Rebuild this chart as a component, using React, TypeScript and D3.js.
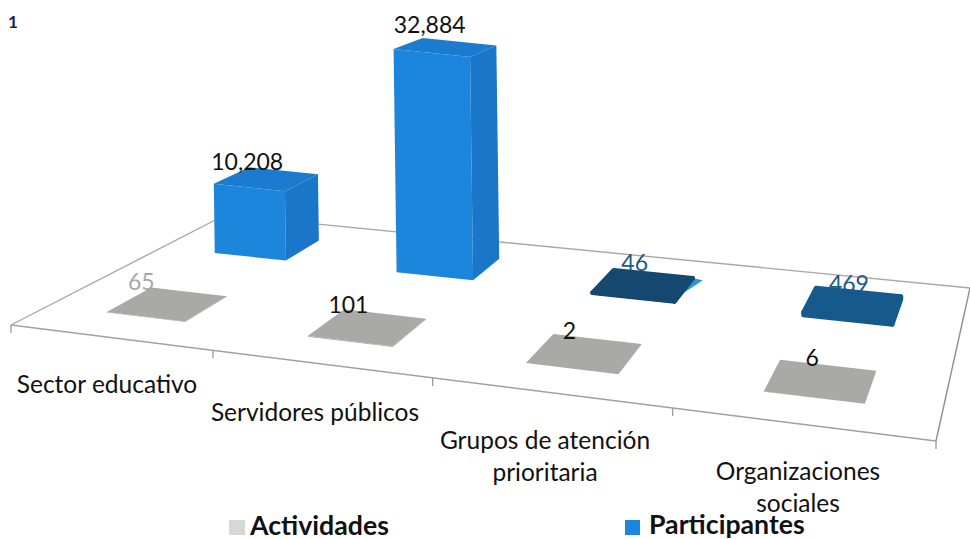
import React from 'react';
import * as d3 from 'd3';

const categories = ['Sector educativo', 'Servidores públicos', 'Grupos de atención prioritaria', 'Organizaciones sociales'];
const seriesNames = ['Participantes', 'Actividades'];
const participantes = [10208, 32884, 46, 469];
const actividades = [65, 101, 2, 6];
const participantesLabels = ['10,208', '32,884', '46', '469'];
const actividadesLabels = ['65', '101', '2', '6'];

// layout only
const FL: [number, number] = [11, 325], FR: [number, number] = [936, 441], BR: [number, number] = [970, 288], BL: [number, number] = [225, 215];
const labelLayoutP = [[-2, 3], [7, -5], [21, 1], [33, 4]];
const labelLayoutA = [[-10, 2], [4, 4], [16, 5], [32, 6]];
const catLabelPos = [[107, 393], [315, 421], [545, 449], [798, 480]];
const catLines = [['Sector educativo'], ['Servidores públicos'], ['Grupos de atención', 'prioritaria'], ['Organizaciones', 'sociales']];
const FONT = 'Lato, Carlito, sans-serif';

function homography() {
  const [x0, y0] = FL, [x1, y1] = FR, [x2, y2] = BR, [x3, y3] = BL;
  const dx1 = x1 - x2, dx2 = x3 - x2, sx = x0 - x1 + x2 - x3;
  const dy1 = y1 - y2, dy2 = y3 - y2, sy = y0 - y1 + y2 - y3;
  const den = dx1 * dy2 - dx2 * dy1;
  const g = (sx * dy2 - dx2 * sy) / den, h = (dx1 * sy - sx * dy1) / den;
  const a = x1 - x0 + g * x1, b = x3 - x0 + h * x3, d = y1 - y0 + g * y1, e = y3 - y0 + h * y3;
  return (u: number, v: number): [number, number] => {
    const w = g * u + h * v + 1;
    return [(a * u + b * v + x0) / w, (d * u + e * v + y0) / w];
  };
}
const floor = homography();
const xBand = d3.scaleBand<string>().domain(categories).range([0.001, 1.001]).paddingInner(0.6).paddingOuter(0.3);
const zBand = d3.scaleBand<string>().domain(seriesNames).range([1, 0]).paddingInner(0.616).paddingOuter(0.287);
const yScale = d3.scaleLinear().domain([0, 32884]).range([0, 257]);
const line = d3.line();

function pt(u: number, v: number, val: number): [number, number] {
  const [x, y] = floor(u, v);
  const h = yScale(val) * (1 - 0.2 * v);
  return [x - 0.0135 * h, y - h];
}

function Bar({ cat, series, value, colors, round }: any) {
  const u0 = xBand(cat)!, u1 = u0 + xBand.bandwidth();
  const v1 = zBand(series)!, v0 = v1 + zBand.bandwidth();
  const flb = pt(u0, v1, 0), frb = pt(u1, v1, 0), brb = pt(u1, v0, 0);
  const flt = pt(u0, v1, value), frt = pt(u1, v1, value), brt = pt(u1, v0, value), blt = pt(u0, v0, value);
  const sw = round ? 4 : 0;
  return (
    <g strokeLinejoin="round">
      <path d={line([flb, frb, frt, flt])! + 'Z'} fill={colors[0]} stroke={colors[0]} strokeWidth={sw} />
      <path d={line([frb, brb, brt, frt])! + 'Z'} fill={colors[1]} stroke={colors[1]} strokeWidth={sw} />
      <path d={line([flt, frt, brt, blt])! + 'Z'} fill={colors[2]} stroke={colors[2]} strokeWidth={sw} />
    </g>
  );
}

function labelAt(cat: string, series: string, value: number, off: number[]) {
  const u0 = xBand(cat)!;
  const v0 = zBand(series)! + zBand.bandwidth();
  const [x, y] = pt(u0, v0, value);
  return [x + off[0], y + off[1]];
}

export default function App() {
  const ticks = [0, 0.25, 0.5, 0.75, 1];
  const blueCols = ['#1c86dc', '#1a76c8', '#1b7ccf'];
  const darkCols = [['#14486f', '#14486f', '#14486f'], ['#165a8c', '#165a8c', '#165a8c']];
  const gray = ['#a9a9a5', '#a9a9a5', '#a9a9a5'];
  return (
    <svg width={970} height={539} style={{ position: 'fixed', left: 0, top: 0, background: '#fff' }} fontFamily={FONT}>
      <text x={8} y={28} fontSize={17} fontWeight={700} fill="#14264f">1</text>
      <path d={line([FL, BL])!} fill="none" stroke="#a8a8a8" strokeWidth={1.4} />
      <path d={line([BL, BR])!} fill="none" stroke="#a8a8a8" strokeWidth={1.4} />
      <path d={line([BR, FR])!} fill="none" stroke="#8f8f8f" strokeWidth={1.4} />
      <path d={line([FL, FR])!} fill="none" stroke="#a0a0a8" strokeWidth={1.4} />
      {ticks.map((t) => {
        const [x, y] = floor(t, 0);
        return <path key={t} d={line([[x, y], [x, y + 8]])!} stroke="#9a9a9a" strokeWidth={1.3} />;
      })}
      {/* small light-blue sliver beside the dark plate */}
      {(() => {
        const c = categories[2];
        const u1 = xBand(c)! + xBand.bandwidth();
        const v1 = zBand('Participantes')!, v0 = v1 + zBand.bandwidth();
        const a = floor(u1, v0), b = floor(u1, v1);
        return <path d={line([[a[0], a[1]], [a[0] + 10, a[1] + 2], [b[0], b[1] - 3]])! + 'Z'} fill="#2a93dc" />;
      })()}
      {categories.map((c, i) => {
        const [lx, ly] = labelAt(c, 'Participantes', participantes[i], labelLayoutP[i]);
        const flat = i >= 2;
        return (
          <g key={c}>
            {flat && <text x={lx} y={ly} textAnchor="middle" fontSize={23} fill="#1a5a8c">{participantesLabels[i]}</text>}
            <Bar cat={c} series="Participantes" value={participantes[i]} colors={flat ? darkCols[i - 2] : blueCols} round={flat} />
            {!flat && <text x={lx} y={ly} textAnchor="middle" fontSize={23} fill="#111">{participantesLabels[i]}</text>}
          </g>
        );
      })}
      {categories.map((c, i) => {
        const [lx, ly] = labelAt(c, 'Actividades', actividades[i], labelLayoutA[i]);
        return (
          <g key={c}>
            <Bar cat={c} series="Actividades" value={actividades[i]} colors={gray} />
            <text x={lx} y={ly} textAnchor="middle" fontSize={23} fill={i === 0 ? '#a8a8a8' : '#111'}>{actividadesLabels[i]}</text>
          </g>
        );
      })}
      {catLines.map((ls, i) => ls.map((l, j) => (
        <text key={l} x={catLabelPos[i][0]} y={catLabelPos[i][1] + j * 32} textAnchor="middle" fontSize={24.5} fill="#111">{l}</text>
      )))}
      <rect x={229} y={520} width={16} height={15} fill="#d8d8d2" />
      <text x={250} y={535} fontSize={26.7} fontWeight={700} fill="#111">{seriesNames[1]}</text>
      <rect x={625} y={520} width={15} height={15} fill="#1c86dc" />
      <text x={649} y={534} fontSize={26.7} fontWeight={700} fill="#111">{seriesNames[0]}</text>
    </svg>
  );
}
